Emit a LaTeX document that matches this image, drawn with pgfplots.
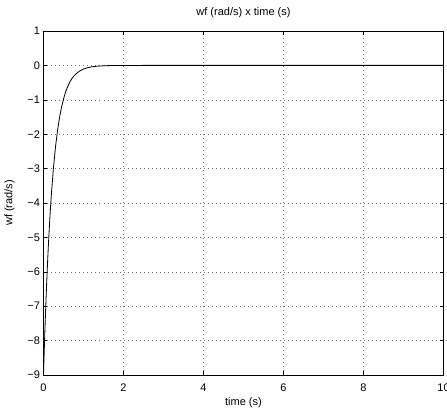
\documentclass[border=0pt]{standalone}
\usepackage{fontspec}
\setmainfont{Liberation Sans}
\usepackage{pgfplots}
\pgfplotsset{compat=1.18}
\begin{document}
\begin{tikzpicture}
\begin{axis}[name=ax,
  width=400pt, height=344pt, scale only axis,
  xmin=0, xmax=10, ymin=-9, ymax=1,
  xtick={0,2,4,6,8,10},
  ytick={-9,-8,-7,-6,-5,-4,-3,-2,-1,0,1},
  yticklabels={−9,−8,−7,−6,−5,−4,−3,−2,−1,0,1},
  tick align=inside, major tick length=4pt,
  tick style={black, line width=0.5pt},
  axis line style={line width=0.8pt},
  grid=major,
  grid style={black!55, line width=0.45pt, dash pattern=on 0.7pt off 3.3pt},
  /pgf/number format/assume math mode=true,
  ticklabel style={font=\fontsize{11}{13}\selectfont},
  xticklabel style={anchor=base, yshift=-17pt},
  title={wf (rad/s) x time (s)},
  title style={at={(axis description cs:0.5,1)}, anchor=base, yshift=9pt, font=\fontsize{11}{13}\selectfont},
  xlabel={time (s)},
  xlabel style={at={(axis description cs:0.5,-0.0901)}, anchor=base, font=\fontsize{11}{13}\selectfont},
  ylabel={wf (rad/s)},
  ylabel style={at={(axis description cs:-0.0775,0.5)}, anchor=base, font=\fontsize{11}{13}\selectfont},
]
\addplot[black, line width=0.8pt] coordinates {
(0,-9) (0.01,-8.61) (0.02,-8.235) (0.03,-7.88) (0.05,-7.21) (0.075,-6.45)
(0.1,-5.77) (0.125,-5.16) (0.15,-4.62) (0.175,-4.13) (0.2,-3.70) (0.25,-2.96)
(0.3,-2.37) (0.35,-1.90) (0.4,-1.52) (0.45,-1.22) (0.5,-0.98) (0.55,-0.78)
(0.6,-0.63) (0.65,-0.50) (0.7,-0.40) (0.75,-0.32) (0.8,-0.26) (0.9,-0.165)
(1.0,-0.106) (1.1,-0.068) (1.2,-0.043) (1.3,-0.028) (1.4,-0.018) (1.6,-0.0073)
(1.8,-0.003) (2.0,-0.0013) (2.5,0) (10,0)
};
\end{axis}
\pgfresetboundingbox
\path ([shift={(-43.5pt,-36pt)}]ax.south west) rectangle ([shift={(3.5pt,31pt)}]ax.north east);
\end{tikzpicture}
\end{document}
